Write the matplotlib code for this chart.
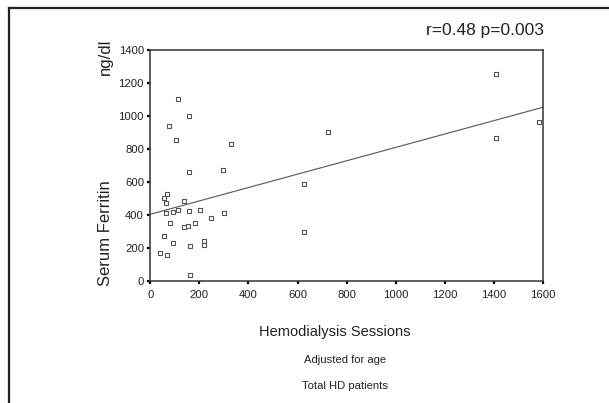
import matplotlib.pyplot as plt
from matplotlib.lines import Line2D

plt.rcParams['font.family'] = ['Liberation Sans', 'DejaVu Sans']

# hemodialysis sessions vs serum ferritin (ng/dl)
sessions = [111, 158, 75, 103, 327, 158, 297, 67, 57, 63, 137, 65, 91, 113, 158,
            201, 301, 247, 81, 183, 137, 155, 57, 91, 217, 217, 163, 41, 67, 162,
            1407, 723, 1582, 1407, 626, 626]
ferritin = [1100, 1000, 940, 852, 832, 658, 670, 524, 500, 470, 482, 413, 417, 429, 423,
            429, 413, 380, 350, 350, 324, 332, 273, 231, 239, 219, 212, 170, 156, 36,
            1252, 902, 963, 864, 587, 294]

# age-adjusted fit line
fit_intercept = 403
fit_slope = 0.406

x_ticks = [0, 200, 400, 600, 800, 1000, 1200, 1400, 1600]
y_ticks = [0, 200, 400, 600, 800, 1000, 1200, 1400]

fig = plt.figure(figsize=(6.09, 4.03), dpi=100)
ax = fig.add_axes([150.3 / 609, 1 - 280.7 / 403, 392.7 / 609, 230.7 / 403])

ax.scatter(sessions, ferritin, marker='s', s=10, facecolors='white',
           edgecolors='#555555', linewidths=0.8, zorder=3)
fx = [0, 1600]
ax.plot(fx, [fit_intercept + fit_slope * v for v in fx], color='#555555', lw=0.8)

ax.set_xlim(0, 1600)
ax.set_ylim(0, 1400)
ax.set_xticks(x_ticks)
ax.set_yticks(y_ticks)
ax.tick_params(direction='out', length=2.5, width=1.6, color='black',
               labelsize=8.1, labelcolor='#222222')
ax.tick_params(axis='x', pad=4.5)
ax.tick_params(axis='y', pad=2)
for side in ax.spines.values():
    side.set_color('#333333')
    side.set_linewidth(1.1)

fig.text(544 / 609, 1 - 31 / 403, 'r=0.48 p=0.003', ha='right', va='center',
         fontsize=12.5, color='#222222')
fig.text(105 / 609, 1 - 233 / 403, 'Serum Ferritin', rotation=90,
         ha='center', va='center', fontsize=12, color='#222222')
fig.text(105 / 609, 1 - 57 / 403, 'ng/dl', rotation=90,
         ha='center', va='center', fontsize=12, color='#222222')
fig.text(335 / 609, 1 - 332 / 403, 'Hemodialysis Sessions', ha='center',
         va='center', fontsize=10.5, color='#222222')
fig.text(345 / 609, 1 - 360 / 403, 'Adjusted for age', ha='center',
         va='center', fontsize=8.1, color='#222222')
fig.text(345 / 609, 1 - 386 / 403, 'Total HD patients', ha='center',
         va='center', fontsize=8.1, color='#222222')

# outer frame (left and top edges)
fig.add_artist(Line2D([9 / 609, 9 / 609], [0, 1 - 8 / 403],
                      transform=fig.transFigure, color='#222222', lw=1.6))
fig.add_artist(Line2D([9 / 609, 1], [1 - 8 / 403, 1 - 8 / 403],
                      transform=fig.transFigure, color='#222222', lw=1.6))

fig.savefig('out.png', dpi=100, facecolor='white')
